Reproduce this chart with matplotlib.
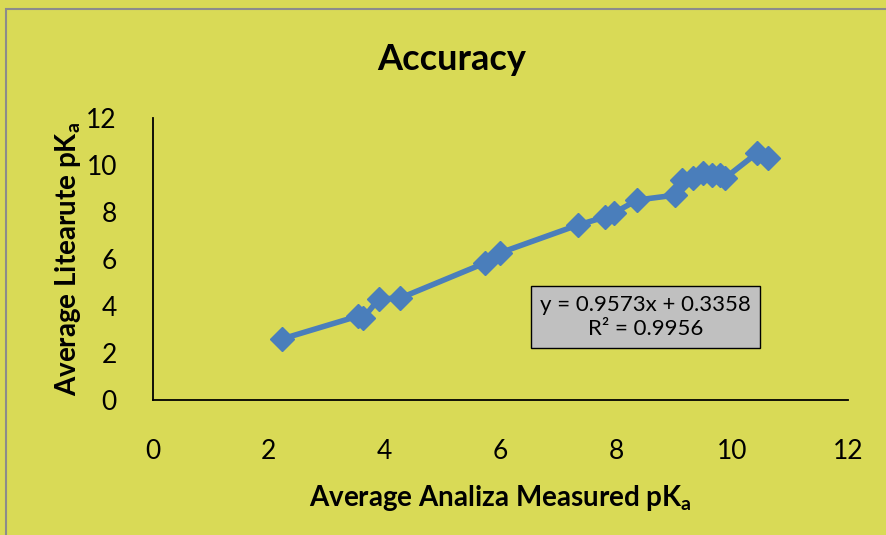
import matplotlib.pyplot as plt
from matplotlib.patches import Rectangle

plt.rcParams['font.family'] = ['Lato', 'DejaVu Sans']
plt.rcParams['mathtext.fontset'] = 'custom'
plt.rcParams['mathtext.rm'] = 'Lato'
plt.rcParams['mathtext.bf'] = 'Lato:bold'

# measured vs literature pKa
measured = [2.23, 3.54, 3.63, 3.90, 4.27, 5.73, 5.99, 7.34, 7.81, 7.96, 8.36,
            9.02, 9.14, 9.33, 9.50, 9.65, 9.79, 9.88, 10.43, 10.62]
literature = [2.60, 3.57, 3.49, 4.30, 4.34, 5.83, 6.26, 7.45, 7.79, 7.96, 8.51,
              8.72, 9.36, 9.45, 9.66, 9.57, 9.57, 9.45, 10.51, 10.30]
ticks = [0, 2, 4, 6, 8, 10, 12]
fit_text = 'y = 0.9573x + 0.3358\nR² = 0.9956'

bg = '#d9da56'
blue = '#4a7ebb'

fig = plt.figure(figsize=(8.87, 5.35), dpi=100, facecolor=bg)
ax = fig.add_axes([0.1725, 0.2523, 0.7835, 0.5271])
ax.set_facecolor(bg)

# chart area border (only top/left visible in the reference)
fig.patches.append(Rectangle((6 / 887, -0.05), 1.1, 1 - 9 / 535 + 0.05,
                             transform=fig.transFigure, fill=False,
                             edgecolor='#8c8c8c', linewidth=1.5))

ax.plot(measured, literature, color=blue, linewidth=4, marker='D',
        markersize=12, markeredgecolor=blue)

ax.set_xlim(0, 12)
ax.set_ylim(0, 12)
ax.set_xticks(ticks)
ax.set_yticks(ticks)
ax.tick_params(length=0, labelsize=19, pad=28)
ax.tick_params(axis='y', pad=26)
for s in ['top', 'right']:
    ax.spines[s].set_visible(False)
for s in ['left', 'bottom']:
    ax.spines[s].set_linewidth(1.3)

ax.set_xlabel(r'Average Analiza Measured pK$_\mathbf{a}$', fontsize=20,
              fontweight='bold', labelpad=14)
ax.set_ylabel(r'Average Litearute pK$_\mathbf{a}$', fontsize=20,
              fontweight='bold', labelpad=2)
fig.text(452 / 887, 1 - 60 / 535, 'Accuracy', fontsize=26, fontweight='bold',
         ha='center', va='center')

ax.text(8.5, 3.53, fit_text, fontsize=16, ha='center', va='center',
        linespacing=1.3,
        bbox=dict(boxstyle='square,pad=0.4', facecolor='#c0c0c0',
                  edgecolor='black', linewidth=1))

fig.savefig('out.png', dpi=100, facecolor=bg)
